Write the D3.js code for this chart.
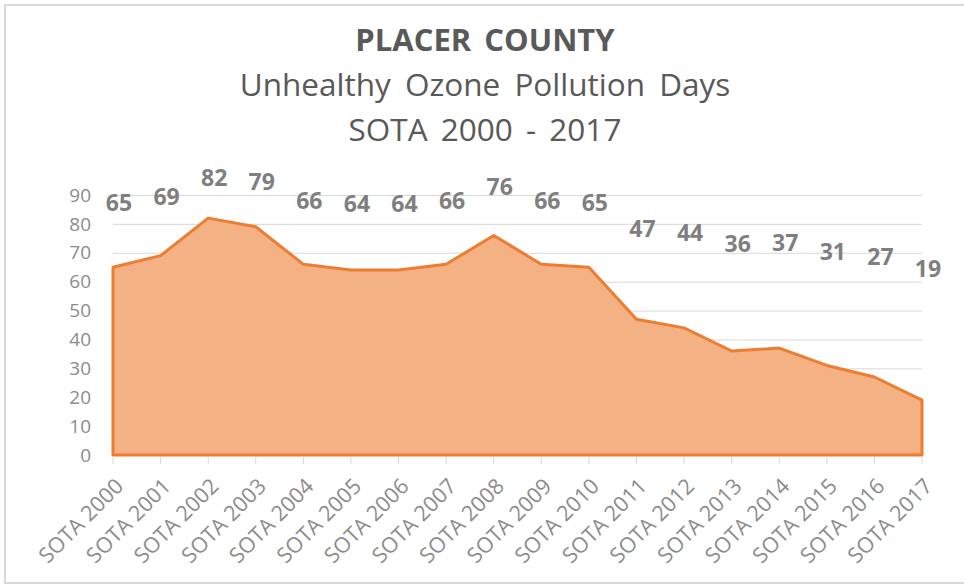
<!DOCTYPE html>
<html lang="en">
<head>
    <meta charset="UTF-8">
    <title>Placer County</title>
    <style>
        body { margin: 0; background: #fff; }
        svg { display: block; font-family: 'Open Sans', sans-serif; }
        .grid line { stroke: #d9d9d9; stroke-width: 1px; }
        .grid path { display: none; }
    </style>
</head>
<body>

<script src="https://d3js.org/d3.v7.min.js"></script>
<script>

    const width = 964;
    const height = 585;

    const years = ['SOTA 2000', 'SOTA 2001', 'SOTA 2002', 'SOTA 2003', 'SOTA 2004', 'SOTA 2005',
        'SOTA 2006', 'SOTA 2007', 'SOTA 2008', 'SOTA 2009', 'SOTA 2010', 'SOTA 2011',
        'SOTA 2012', 'SOTA 2013', 'SOTA 2014', 'SOTA 2015', 'SOTA 2016', 'SOTA 2017'];
    const days = [65, 69, 82, 79, 66, 64, 64, 66, 76, 66, 65, 47, 44, 36, 37, 31, 27, 19];
    const yTicks = [0, 10, 20, 30, 40, 50, 60, 70, 80, 90];
    const titleLines = ['PLACER COUNTY', 'Unhealthy Ozone Pollution Days', 'SOTA 2000 - 2017'];

    const plotLeft = 113, plotRight = 922, plotTop = 195, plotBottom = 455;

    let svg = d3.select('body').append('svg')
        .attr('width', width)
        .attr('height', height);

    // chart frame
    svg.append('rect')
        .attr('x', 5).attr('y', 5)
        .attr('width', 970).attr('height', 578)
        .attr('fill', '#fff')
        .attr('stroke', '#d9d9d9')
        .attr('stroke-width', 2);

    let x = d3.scalePoint().domain(years).range([plotLeft, plotRight]);
    let y = d3.scaleLinear().domain([0, 90]).range([plotBottom, plotTop]);

    // gridlines
    svg.append('g')
        .attr('class', 'grid')
        .attr('transform', 'translate(' + plotLeft + ',0)')
        .call(d3.axisLeft(y).tickValues(yTicks.slice(1)).tickSize(-(plotRight - plotLeft)).tickFormat(''));

    // y labels
    svg.append('g').selectAll('text')
        .data(yTicks)
        .enter().append('text')
        .attr('x', 91)
        .attr('y', function (d) { return y(d); })
        .attr('dy', '0.35em')
        .attr('text-anchor', 'end')
        .attr('fill', '#8c8c8c')
        .attr('font-size', 19)
        .text(function (d) { return d; });

    // area
    let area = d3.area()
        .x(function (d, i) { return x(years[i]); })
        .y0(y(0))
        .y1(function (d) { return y(d); });

    svg.append('path')
        .datum(days)
        .attr('d', area)
        .attr('fill', '#f4b183')
        .attr('stroke', '#ed7d31')
        .attr('stroke-width', 3)
        .attr('stroke-linejoin', 'round');

    // x tick marks
    svg.append('g').selectAll('line')
        .data(years)
        .enter().append('line')
        .attr('x1', function (d) { return x(d); })
        .attr('x2', function (d) { return x(d); })
        .attr('y1', plotBottom + 2)
        .attr('y2', plotBottom + 9)
        .attr('stroke', '#d9d9d9')
        .attr('stroke-width', 1);

    // x labels
    svg.append('g').selectAll('text')
        .data(years)
        .enter().append('text')
        .attr('transform', function (d) { return 'translate(' + (x(d) + 1) + ',' + (plotBottom + 22) + ') rotate(-45)'; })
        .attr('text-anchor', 'end')
        .attr('dy', '0.7em')
        .attr('fill', '#8c8c8c')
        .attr('font-size', 21.5)
        .text(function (d) { return d; });

    // data labels
    svg.append('g').selectAll('text')
        .data(days)
        .enter().append('text')
        .attr('x', function (d, i) { return x(years[i]) + 6; })
        .attr('y', function (d) { return y(d * 0.5 + 55); })
        .attr('dy', '0.36em')
        .attr('text-anchor', 'middle')
        .attr('fill', '#7f7f7f')
        .attr('font-size', 23)
        .attr('font-weight', 'bold')
        .text(function (d) { return d; });

    // titles
    svg.append('g').selectAll('text')
        .data(titleLines)
        .enter().append('text')
        .attr('x', 485)
        .attr('y', function (d, i) { return 51 + i * 45; })
        .attr('text-anchor', 'middle')
        .attr('fill', '#595959')
        .attr('font-size', function (d, i) { return i ? 31.5 : 31; })
        .attr('font-weight', function (d, i) { return i ? 'normal' : 'bold'; })
        .attr('word-spacing', function (d, i) { return i === 1 ? 6 : 5; })
        .text(function (d) { return d; });

</script>

</body>
</html>
